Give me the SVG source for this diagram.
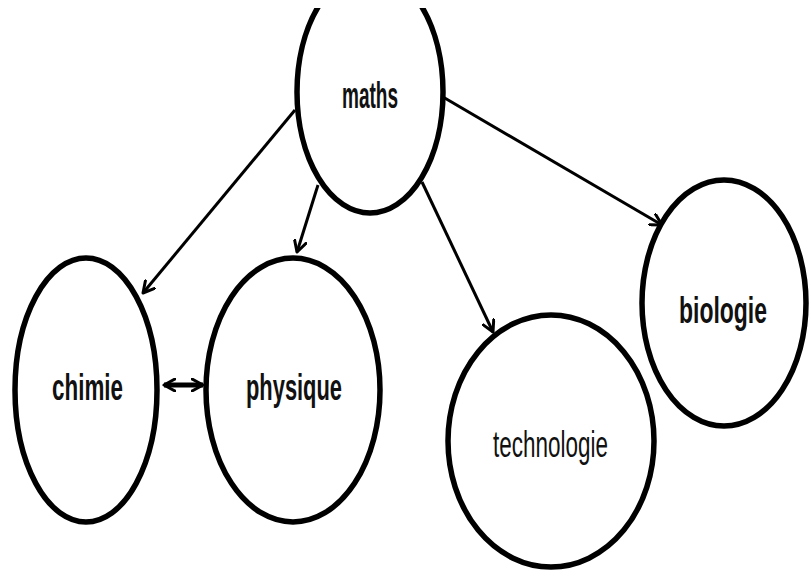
<svg xmlns="http://www.w3.org/2000/svg" width="809" height="573" viewBox="0 0 809 573">
<style>
.node{fill:#fff;stroke:#000;stroke-width:5.5}
.lbl{font-family:"Liberation Sans",Arial,sans-serif;font-size:36px;font-weight:bold;fill:#111;text-anchor:start}
.edge{stroke:#000;stroke-width:3;fill:none}
</style>
<defs>
<marker id="ah" viewBox="0 0 14 14" refX="12" refY="7" markerWidth="14" markerHeight="14" markerUnits="userSpaceOnUse" orient="auto-start-reverse">
<path d="M1,1 L12,7 L1,13" fill="none" stroke="#000" stroke-width="3" stroke-linecap="round" stroke-linejoin="round"/>
</marker>
<clipPath id="clipTop"><rect x="0" y="8" width="809" height="565"/></clipPath>
</defs>
<rect width="809" height="573" fill="#fff"/>
<g id="connectors">
<line class="edge" x1="295" y1="110" x2="143" y2="293" marker-end="url(#ah)"/>
<line class="edge" x1="318" y1="185" x2="297" y2="252" marker-end="url(#ah)"/>
<line class="edge" x1="422" y1="182" x2="493" y2="332" marker-end="url(#ah)"/>
<line class="edge" x1="443" y1="97" x2="662" y2="225" marker-end="url(#ah)"/>
<line class="edge" style="stroke-width:5" x1="164" y1="385" x2="203" y2="385" marker-start="url(#ah)" marker-end="url(#ah)"/>
</g>
<g id="maths">
<ellipse class="node" cx="370" cy="92" rx="73" ry="121" clip-path="url(#clipTop)"/>
<text class="lbl" x="342" y="108" font-size="34" textLength="56" lengthAdjust="spacingAndGlyphs">maths</text>
</g>
<g id="chimie">
<ellipse class="node" cx="86" cy="390" rx="71" ry="132"/>
<text class="lbl" x="52" y="400" textLength="71" lengthAdjust="spacingAndGlyphs">chimie</text>
</g>
<g id="physique">
<ellipse class="node" cx="293" cy="390" rx="87" ry="132"/>
<text class="lbl" x="246" y="400" textLength="96" lengthAdjust="spacingAndGlyphs">physique</text>
</g>
<g id="technologie">
<ellipse class="node" cx="551" cy="441" rx="103" ry="126"/>
<text class="lbl" x="493" y="457" style="font-weight:normal" textLength="115" lengthAdjust="spacingAndGlyphs">technologie</text>
</g>
<g id="biologie">
<ellipse class="node" cx="724" cy="303" rx="82" ry="123"/>
<text class="lbl" x="679" y="323" textLength="88" lengthAdjust="spacingAndGlyphs">biologie</text>
</g>
</svg>
